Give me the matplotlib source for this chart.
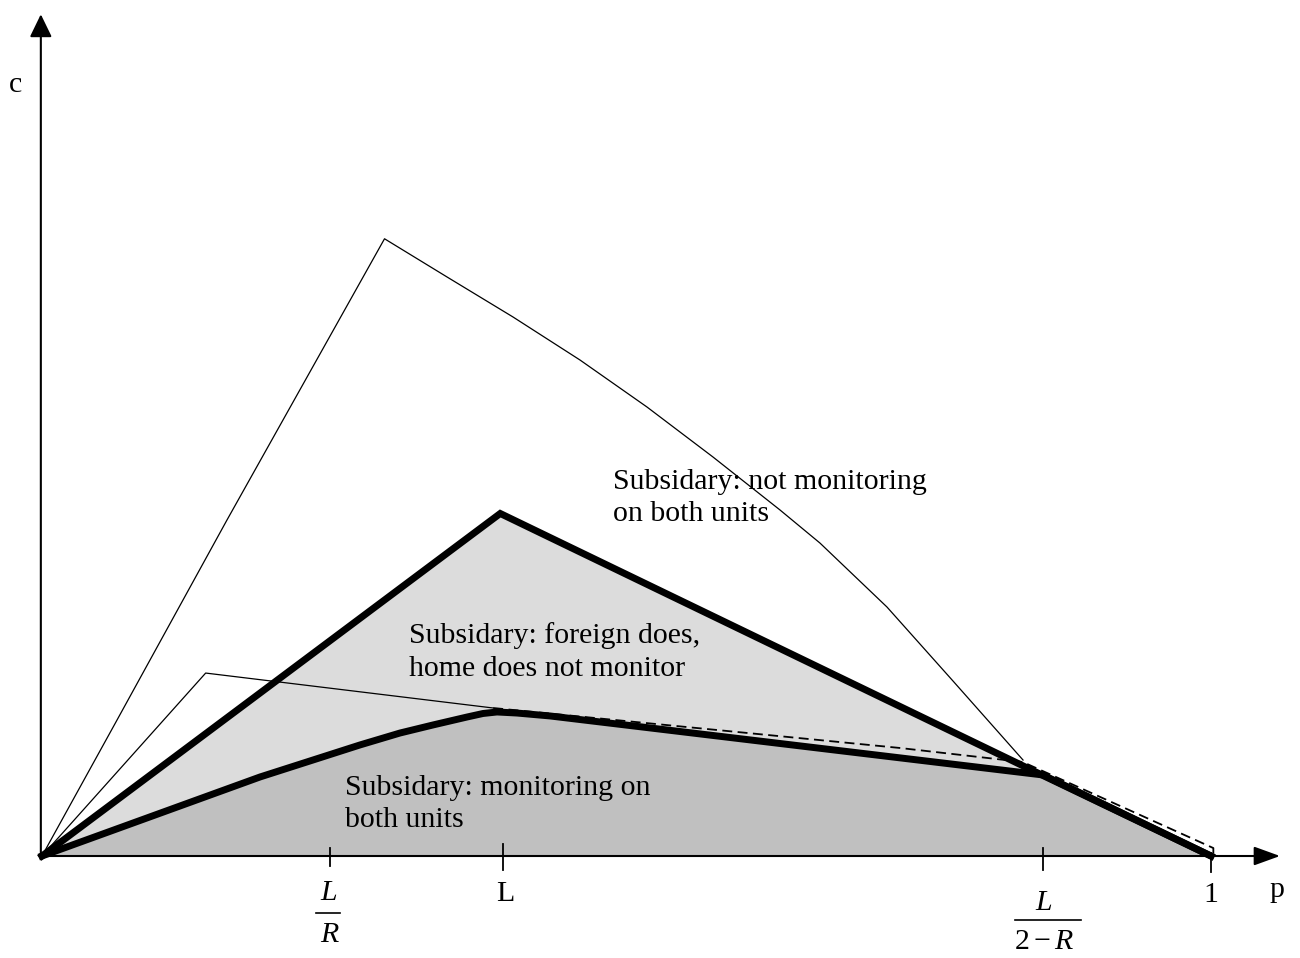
import matplotlib
matplotlib.use("Agg")
import matplotlib.pyplot as plt

plt.rcParams['font.family'] = ['Liberation Serif', 'DejaVu Serif']
plt.rcParams['mathtext.fontset'] = 'custom'
plt.rcParams['mathtext.rm'] = 'Liberation Serif'
plt.rcParams['mathtext.it'] = 'Liberation Serif:italic'

# ---- data (p on horizontal axis, c on vertical axis) ----
upper_p = [0.0, 0.392, 0.856, 1.0]
upper_c = [0.0, 0.293, 0.069, 0.0]

lower_p = [0.0, 0.1865, 0.2720, 0.3062, 0.3345, 0.3636, 0.3772, 0.3892, 0.4063, 0.4346, 0.8563, 1.0]
lower_c = [0.0, 0.0676, 0.0950, 0.1052, 0.1121, 0.1189, 0.1219, 0.1232, 0.1223, 0.1198, 0.0693, 0.0]

outer_p = [0.0, 0.064, 0.158, 0.293, 0.3465, 0.4029, 0.4602, 0.5175, 0.5740, 0.6313,
           0.6655, 0.7228, 0.7793, 0.8392]
outer_c = [0.0, 0.116, 0.287, 0.528, 0.4953, 0.4611, 0.4243, 0.3841, 0.3413, 0.2960,
           0.2677, 0.2130, 0.1497, 0.0821]

inner_p = [0.0, 0.140, 0.386]
inner_c = [0.0, 0.1565, 0.1266]

dash_p = [0.386, 0.734, 0.839, 1.002, 1.002]
dash_c = [0.1266, 0.0924, 0.0804, 0.0068, 0.0]

tick_pos = [0.2464, 0.394, 0.856, 1.0]

region_labels = [
    ("Subsidary: not monitoring", "on both units"),
    ("Subsidary: foreign does,", "home does not monitor"),
    ("Subsidary: monitoring on", "both units"),
]
region_pos = [(0.4885, 0.314), (0.314, 0.1822), (0.2592, 0.0522)]

FS = 21.5
LINE = 0.0278

fig = plt.figure(figsize=(13, 9.58), dpi=100)
ax = fig.add_axes([0, 0, 1, 1])
ax.set_xlim(-0.03593, 1.07613)
ax.set_ylim(-0.08725, 0.73225)
ax.axis('off')

# fills
ax.fill(upper_p, upper_c, color='#dcdcdc', lw=0, zorder=1)
ax.fill(lower_p, lower_c, color='#c0c0c0', lw=0, zorder=2)

# thin lines
ax.plot(outer_p, outer_c, color='black', lw=0.9, zorder=3)
ax.plot(inner_p, inner_c, color='black', lw=0.9, zorder=3)
ax.plot(dash_p, dash_c, color='black', lw=1.3, ls=(0, (5.5, 3)), zorder=3)

# thick lines
ax.plot(upper_p, upper_c, color='black', lw=5, solid_joinstyle='miter', zorder=5)
ax.plot(lower_p, lower_c, color='black', lw=5, solid_joinstyle='round', zorder=5)

# axes with arrows
ax.annotate('', xy=(-0.001, 0.720), xytext=(-0.001, -0.0005),
            arrowprops=dict(arrowstyle='-|>,head_length=0.7,head_width=0.34',
                            lw=1.5, color='black', mutation_scale=20,
                            shrinkA=0, shrinkB=0), zorder=6)
ax.annotate('', xy=(1.059, 0.0), xytext=(-0.001, 0.0),
            arrowprops=dict(arrowstyle='-|>,head_length=0.8,head_width=0.29',
                            lw=1.5, color='black', mutation_scale=20,
                            shrinkA=0, shrinkB=0), zorder=6)

# ticks
tick_top = [0.0068, 0.0103, 0.0068, 0.0026]
tick_bot = [-0.0086, -0.012, -0.012, -0.0137]
for x, t, b in zip(tick_pos, tick_top, tick_bot):
    ax.plot([x, x], [b, t], color='black', lw=1.3, zorder=6)

# tick labels
ax.text(0.2455, -0.0318, r'$L$', fontsize=FS, ha='center', va='center')
ax.plot([0.2344, 0.2549], [-0.0487, -0.0487], color='black', lw=1.2)
ax.text(0.2465, -0.0672, r'$R$', fontsize=FS, ha='center', va='center')

ax.text(0.396, -0.0325, 'L', fontsize=FS, ha='center', va='center')

ax.text(0.857, -0.0400, r'$L$', fontsize=FS, ha='center', va='center')
ax.plot([0.8323, 0.8888], [-0.0547, -0.0547], color='black', lw=1.2)
ax.text(0.8575, -0.0735, r'$2-R$', fontsize=FS, ha='center', va='center')

ax.text(1.0, -0.0333, '1', fontsize=FS, ha='center', va='center')
ax.text(1.0565, -0.0290, 'p', fontsize=FS, ha='center', va='center')
ax.text(-0.023, 0.6595, 'c', fontsize=FS, ha='center', va='center')

# region labels
for (l1, l2), (x, y) in zip(region_labels, region_pos):
    ax.text(x, y, l1, fontsize=FS, ha='left', va='baseline', zorder=7)
    ax.text(x, y - LINE, l2, fontsize=FS, ha='left', va='baseline', zorder=7)

fig.savefig('out.png', dpi=100)
